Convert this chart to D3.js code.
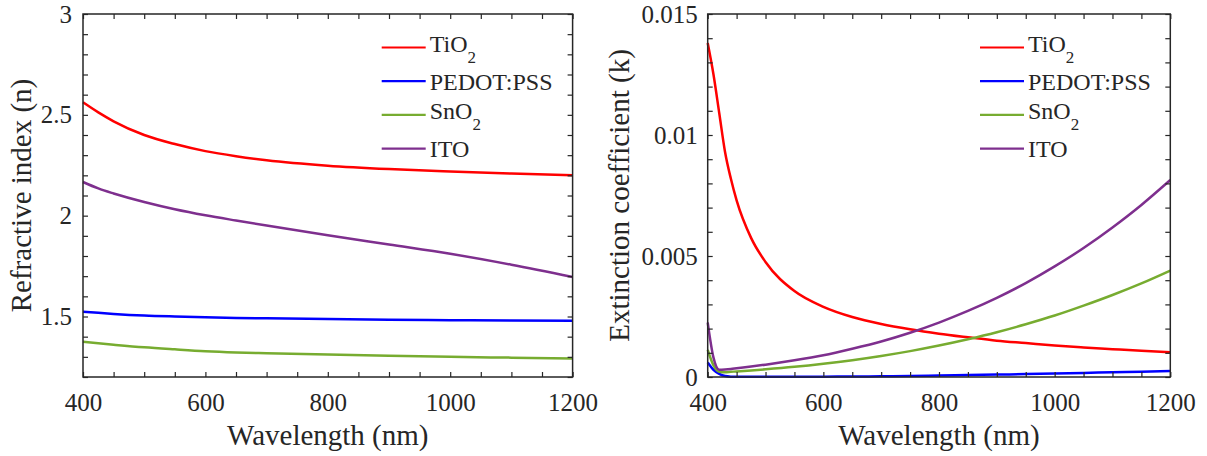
<!DOCTYPE html>
<html>
<head>
<meta charset="utf-8">
<script src="https://cdn.jsdelivr.net/npm/d3@7"></script>
<style>
  body { margin: 0; background: #fff; }
  text { font-family: "Liberation Serif", "Times New Roman", serif; fill: #262626; }
</style>
</head>
<body>
<svg id="chart" width="1207" height="456"></svg>
<script>
// legend entries (name, subscript) and colours
const materials = [["TiO", "2"], ["PEDOT:PSS", ""], ["SnO", "2"], ["ITO", ""]];
const colors = ["#ff0000", "#0000ff", "#77ac30", "#7e2f8e"];

// refractive index n
const nWavelength = [400, 425, 450, 500, 550, 600, 650, 700, 800, 900, 1000, 1100, 1200];
const nTiO2  = [2.562, 2.512, 2.468, 2.40, 2.355, 2.32, 2.295, 2.275, 2.248, 2.231, 2.219, 2.209, 2.201];
const nPedot = [1.524, 1.518, 1.513, 1.505, 1.50, 1.496, 1.493, 1.491, 1.487, 1.484, 1.482, 1.480, 1.479];
const nSnO2  = [1.375, 1.367, 1.36, 1.347, 1.337, 1.328, 1.322, 1.318, 1.311, 1.305, 1.300, 1.296, 1.292];
const nITO   = [2.167, 2.135, 2.11, 2.068, 2.032, 2.002, 1.976, 1.951, 1.903, 1.857, 1.811, 1.757, 1.696];

// extinction coefficient k
const kWavelength = [400, 410, 420, 430, 440, 450, 475, 500, 550, 600, 650, 700, 750, 800, 850, 900, 950, 1000, 1050, 1100, 1150, 1200];
const kTiO2  = [0.0138, 0.0125, 0.0109, 0.0093, 0.0082, 0.0073, 0.00575, 0.00475, 0.00355, 0.0029, 0.00248, 0.00219, 0.00197, 0.00179, 0.00164, 0.0015, 0.0014, 0.0013, 0.00122, 0.00115, 0.00108, 0.00102];
const kPedot = [0.0006, 0.0003, 0.00013, 0.00004, 0.000015, 0.00001, 0.000008, 0.000008, 0.00001, 0.000015, 0.00002, 0.00003, 0.000045, 0.00006, 0.00008, 0.0001, 0.00012, 0.000145, 0.00017, 0.000195, 0.00022, 0.00025];
const kSnO2  = [0.00112, 0.00048, 0.00022, 0.0002, 0.000215, 0.00023, 0.00027, 0.000316, 0.00042, 0.000547, 0.000695, 0.000869, 0.00107, 0.0013, 0.00156, 0.00185, 0.00218, 0.00254, 0.00295, 0.00339, 0.00387, 0.0044];
const kITO   = [0.00225, 0.0008, 0.0003, 0.00031, 0.00033, 0.00036, 0.00043, 0.00051, 0.00069, 0.0009, 0.00117, 0.00147, 0.00183, 0.00225, 0.00273, 0.00327, 0.00388, 0.00457, 0.00533, 0.00618, 0.00711, 0.00814];

// ticks
const xTickLabels = [400, 600, 800, 1000, 1200];
const nTickLabels = [1.5, 2, 2.5, 3];
const kTickLabels = [0, 0.005, 0.01, 0.015];

const svg = d3.select("#chart");

function drawPanel(opts) {
    const { left, right, top, bottom } = opts;
    const x = d3.scaleLinear().domain([400, 1200]).range([left, right]);
    const y = d3.scaleLinear().domain(opts.yDomain).range([bottom, top]);
    const g = svg.append("g");

    const xMinor = d3.range(400, 1201, 50);
    const yMinor = d3.range(0, Math.round((opts.yDomain[1] - opts.yDomain[0]) / opts.yStep) + 1)
        .map(i => +(opts.yDomain[0] + i * opts.yStep).toFixed(6));
    const isMajor = (list, d) => list.some(v => Math.abs(v - d) < 1e-9);

    // series
    const line = d3.line().x(d => x(d[0])).y(d => y(d[1])).curve(d3.curveMonotoneX);
    opts.series.forEach((s, i) => {
        g.append("path")
            .datum(opts.wl.map((w, j) => [w, s[j]]))
            .attr("fill", "none")
            .attr("stroke", colors[i])
            .attr("stroke-width", 2.5)
            .attr("d", line);
    });

    // axes with inward ticks
    const styleAxis = sel => {
        sel.select(".domain").remove();
        sel.selectAll("line").attr("stroke", "#262626").attr("stroke-width", 1.2);
        sel.selectAll("text").attr("font-size", 25).attr("fill", "#262626")
            .attr("font-family", "Liberation Serif, Times New Roman, serif");
    };
    g.append("g").attr("transform", `translate(0,${bottom})`)
        .call(d3.axisBottom(x).tickValues(xMinor).tickSize(-5).tickPadding(16)
            .tickFormat(d => isMajor(xTickLabels, d) ? d : ""))
        .call(styleAxis);
    g.append("g").attr("transform", `translate(0,${top})`)
        .call(d3.axisTop(x).tickValues(xMinor).tickSize(-5).tickFormat(""))
        .call(styleAxis);
    g.append("g").attr("transform", `translate(${left},0)`)
        .call(d3.axisLeft(y).tickValues(yMinor).tickSize(-5).tickPadding(opts.yPad)
            .tickFormat(d => isMajor(opts.yLabels, d) ? String(d) : ""))
        .call(styleAxis);
    g.append("g").attr("transform", `translate(${right},0)`)
        .call(d3.axisRight(y).tickValues(yMinor).tickSize(-5).tickFormat(""))
        .call(styleAxis);

    g.append("rect")
        .attr("x", left).attr("y", top)
        .attr("width", right - left).attr("height", bottom - top)
        .attr("fill", "none").attr("stroke", "#262626").attr("stroke-width", 1.5);

    // axis titles
    g.append("text")
        .attr("x", (left + right) / 2).attr("y", 445)
        .attr("text-anchor", "middle").attr("font-size", 29)
        .text("Wavelength (nm)");
    g.append("text")
        .attr("transform", `translate(${opts.yTitleX},${(top + bottom) / 2}) rotate(-90)`)
        .attr("text-anchor", "middle").attr("font-size", 29)
        .text(opts.yTitle);

    // legend
    const leg = g.append("g");
    materials.forEach((m, i) => {
        const ry = 47.5 + i * 33.7;
        leg.append("line")
            .attr("x1", opts.legX).attr("x2", opts.legX + 44)
            .attr("y1", ry).attr("y2", ry)
            .attr("stroke", colors[i]).attr("stroke-width", 2.2);
        const t = leg.append("text")
            .attr("x", opts.legX + 48)
            .attr("y", ry + (m[1] ? 4 : 8.3))
            .attr("font-size", 24);
        t.append("tspan").text(m[0]);
        if (m[1]) t.append("tspan").attr("dy", 11.5).attr("font-size", 17).text(m[1]);
    });
}

drawPanel({
    left: 83, right: 572.6, top: 14, bottom: 377,
    yDomain: [1.2, 3], yStep: 0.1, yLabels: nTickLabels, yPad: 11,
    wl: nWavelength, series: [nTiO2, nPedot, nSnO2, nITO],
    yTitle: "Refractive index (n)", yTitleX: 31, legX: 381.7
});

drawPanel({
    left: 707.7, right: 1170.3, top: 14, bottom: 377,
    yDomain: [0, 0.015], yStep: 0.001, yLabels: kTickLabels, yPad: 10,
    wl: kWavelength, series: [kTiO2, kPedot, kSnO2, kITO],
    yTitle: "Extinction coefficient (k)", yTitleX: 628.5, legX: 980
});
</script>
</body>
</html>
